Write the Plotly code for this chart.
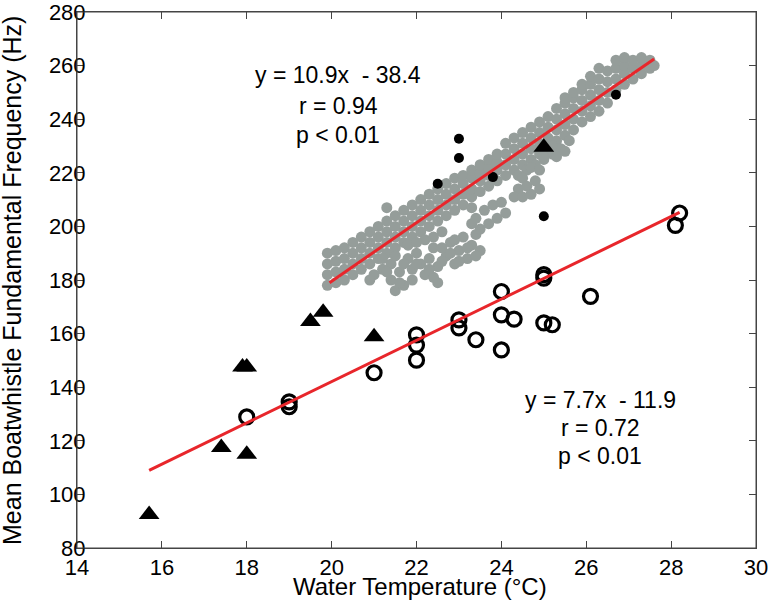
import plotly.graph_objects as go

# ---------------- data ----------------
# grey cloud (dense recordings), main band / lower lobe / hook
cloud_main = [
    (19.9, 178), (19.9, 182), (19.9, 186), (19.9, 190),
    (20.1, 179), (20.1, 183), (20.1, 187), (20.1, 191),
    (20.3, 180), (20.3, 184), (20.3, 188), (20.3, 192),
    (20.5, 182), (20.5, 186), (20.5, 190), (20.5, 194),
    (20.7, 184), (20.7, 188), (20.7, 192), (20.7, 196),
    (20.9, 186), (20.9, 190), (20.9, 194), (20.9, 198),
    (21.1, 188), (21.1, 192), (21.1, 196), (21.1, 200),
    (21.3, 190), (21.3, 194), (21.3, 198), (21.3, 202), (21.3, 207),
    (21.5, 192), (21.5, 196), (21.5, 200), (21.5, 204),
    (21.7, 194), (21.7, 198), (21.7, 202), (21.7, 206),
    (21.9, 196), (21.9, 200), (21.9, 204), (21.9, 208),
    (22.1, 198), (22.1, 202), (22.1, 206), (22.1, 210),
    (22.3, 200), (22.3, 204), (22.3, 208), (22.3, 212),
    (22.5, 202), (22.5, 206), (22.5, 210), (22.5, 214),
    (22.7, 204), (22.7, 208), (22.7, 212), (22.7, 216),
    (22.9, 206), (22.9, 210), (22.9, 214), (22.9, 218),
    (23.1, 208), (23.1, 212), (23.1, 216), (23.1, 219),
    (23.3, 211), (23.3, 214), (23.3, 218), (23.3, 221),
    (23.5, 213), (23.5, 217), (23.5, 220), (23.5, 223),
    (23.7, 215), (23.7, 219), (23.7, 222), (23.7, 225),
    (23.9, 217), (23.9, 221), (23.9, 224), (23.9, 227),
    (24.1, 219), (24.1, 223), (24.1, 227), (24.1, 231),
    (24.3, 221), (24.3, 225), (24.3, 229), (24.3, 233),
    (24.5, 223), (24.5, 227), (24.5, 231), (24.5, 235),
    (24.7, 225), (24.7, 229), (24.7, 233), (24.7, 237),
    (24.9, 227), (24.9, 231), (24.9, 235), (24.9, 239),
    (25.1, 229), (25.1, 233), (25.1, 237), (25.1, 241),
    (25.3, 232), (25.3, 236), (25.3, 240), (25.3, 244),
    (25.5, 234), (25.5, 238), (25.5, 242), (25.5, 246), (25.5, 248),
    (25.7, 236), (25.7, 240), (25.7, 244), (25.7, 248), (25.7, 250),
    (25.9, 239), (25.9, 243), (25.9, 247), (25.9, 251), (25.9, 253),
    (26.1, 241), (26.1, 245), (26.1, 249), (26.1, 253), (26.1, 256),
    (26.3, 243), (26.3, 247), (26.3, 251), (26.3, 255), (26.3, 259),
    (26.5, 246), (26.5, 250), (26.5, 254), (26.5, 258),
    (26.7, 251), (26.7, 255), (26.7, 259), (26.7, 262),
    (26.9, 253), (26.9, 257), (26.9, 260), (26.9, 263),
    (27.1, 255), (27.1, 259), (27.1, 262),
    (27.3, 257), (27.3, 260), (27.3, 263),
    (27.5, 259), (27.5, 262), (27.6, 260),
]
cloud_lower = [
    (21.0, 182), (21.2, 184), (21.4, 186), (21.4, 180), (21.5, 176),
    (21.6, 183), (21.7, 178), (21.8, 188), (21.9, 184), (22.0, 190),
    (22.1, 186), (22.2, 182), (22.3, 188), (22.4, 192), (22.5, 179),
    (22.5, 185), (22.7, 189), (22.8, 194), (22.9, 186), (23.0, 191),
    (23.1, 196), (23.2, 188), (23.3, 193), (23.4, 197), (23.5, 191),
    (22.6, 198), (22.2, 195), (21.8, 193),
    (20.9, 180), (21.2, 188), (21.5, 189), (21.7, 186), (22.0, 186),
    (22.3, 184), (22.4, 181), (22.6, 187), (22.6, 192), (22.8, 190),
    (23.0, 187), (23.2, 192), (23.4, 189), (21.9, 180), (21.6, 179),
    (22.0, 194), (22.4, 196), (22.9, 195), (23.3, 201), (21.3, 183),
]
cloud_hook = [
    (24.4, 219), (24.6, 221), (24.8, 223), (25.0, 225), (25.2, 227),
    (25.4, 229), (25.6, 232), (25.0, 226), (25.3, 226), (25.5, 228),
    (25.2, 230), (24.7, 222), (24.9, 221), (24.5, 218),
    (24.4, 214), (24.6, 215), (24.8, 217), (24.3, 211), (24.5, 211),
    (24.7, 212), (24.9, 214),
    (23.4, 203), (23.6, 206), (23.8, 208), (24.0, 209), (24.1, 205),
    (23.9, 203), (23.5, 199), (23.7, 201), (23.3, 207),
]

# black filled dots
dots_x = [22.5, 23.0, 23.0, 23.8, 26.7, 25.0]
dots_y = [215.9, 232.7, 225.5, 218.4, 249.1, 203.8]

# filled triangles
tri_x = [15.7, 17.4, 18.0, 17.9, 18.0, 19.5, 19.8, 21.0, 25.0]
tri_y = [92.5, 117.5, 115.0, 147.5, 147.5, 164.5, 168.0, 158.8, 229.5]

# open circles
circ_x = [18.0, 19.0, 19.0, 21.0, 22.0, 22.0, 22.0, 23.0, 23.0, 23.4,
          24.0, 24.0, 24.3, 24.0, 25.0, 25.0, 25.0, 25.2, 26.1, 28.2, 28.1]
circ_y = [128.9, 134.5, 132.7, 145.4, 159.5, 155.7, 150.1, 165.1, 162.1, 157.7,
          175.7, 167.0, 165.4, 153.9, 182.0, 180.7, 164.0, 163.3, 173.9, 205.0, 200.4]

# regression lines (endpoints)
fit_hi_x = [19.95, 27.6]
fit_hi_y = [179.0, 262.5]
fit_lo_x = [15.7, 28.2]
fit_lo_y = [109.0, 205.2]

x_ticks = [14, 16, 18, 20, 22, 24, 26, 28, 30]
y_ticks = [80, 100, 120, 140, 160, 180, 200, 220, 240, 260, 280]

# ---------------- figure ----------------
FONT = "Liberation Sans, Arial, Helvetica, sans-serif"
GREY = "#959d9a"
RED = "#e8262b"
FRAME = "#444"

W, H = 769, 607
L, R, T, B = 77, 13, 12, 59
PW, PH = W - L - R, H - T - B

cloud = cloud_main + cloud_lower + cloud_hook
fig = go.Figure()
fig.add_trace(go.Scatter(
    x=[p[0] for p in cloud], y=[p[1] for p in cloud], mode="markers",
    marker=dict(color=GREY, size=11, line=dict(width=0)), hoverinfo="skip"))
fig.add_trace(go.Scatter(
    x=dots_x, y=dots_y, mode="markers",
    marker=dict(color="black", size=10, line=dict(width=0))))
fig.add_trace(go.Scatter(
    x=tri_x, y=tri_y, mode="markers",
    marker=dict(symbol="triangle-up", color="black", size=18, line=dict(width=0))))
fig.add_trace(go.Scatter(
    x=circ_x, y=circ_y, mode="markers",
    marker=dict(symbol="circle-open", color="black", size=14, line=dict(width=3.2, color="black"))))
fig.add_trace(go.Scatter(
    x=fit_hi_x, y=fit_hi_y, mode="lines", line=dict(color=RED, width=3)))
fig.add_trace(go.Scatter(
    x=fit_lo_x, y=fit_lo_y, mode="lines", line=dict(color=RED, width=3)))

ann_font = dict(family=FONT, size=23, color="black")
texts_hi = ["y = 10.9x \u00a0- 38.4", "r = 0.94", "p < 0.01"]
texts_lo = ["y = 7.7x \u00a0- 11.9", "r = 0.72", "p < 0.01"]
for t, yy in zip(texts_hi, [256.5, 244.8, 234.2]):
    fig.add_annotation(x=20.16, y=yy, text=t, showarrow=False, font=ann_font,
                       xanchor="center", yanchor="middle")
for t, yy in zip(texts_lo, [135.4, 124.9, 114.3]):
    fig.add_annotation(x=26.33, y=yy, text=t, showarrow=False, font=ann_font,
                       xanchor="center", yanchor="middle")

# axis titles as paper annotations for exact placement
fig.add_annotation(xref="paper", yref="paper", x=(420 - L) / PW, y=-(586 - (H - B)) / PH,
                   text="Water Temperature (°C)", showarrow=False,
                   font=dict(family=FONT, size=24, color="black"),
                   xanchor="center", yanchor="middle")
fig.add_annotation(xref="paper", yref="paper", x=(12 - L) / PW, y=(H - B - 281) / PH,
                   text="Mean Boatwhistle Fundamental Frequency (Hz)", showarrow=False,
                   textangle=-90, font=dict(family=FONT, size=25, color="black"),
                   xanchor="center", yanchor="middle")

# full frame
fig.add_shape(type="rect", xref="paper", yref="paper", x0=0, x1=1, y0=0, y1=1,
              line=dict(color=FRAME, width=1), layer="above")

axis_common = dict(
    showline=True, linecolor=FRAME, linewidth=1, mirror="allticks",
    ticks="inside", ticklen=7, tickwidth=1, tickcolor=FRAME,
    showgrid=False, zeroline=False, ticklabeloverflow="allow",
    tickfont=dict(family=FONT, size=22, color="black"),
)
fig.update_xaxes(range=[14, 30], tickvals=x_ticks, ticktext=[str(v) for v in x_ticks],
                 **axis_common)
fig.update_yaxes(range=[80, 280], tickvals=y_ticks, ticktext=[str(v) for v in y_ticks],
                 ticklabelstandoff=-14, **axis_common)

fig.update_layout(
    width=W, height=H, showlegend=False,
    margin=dict(l=L, r=R, t=T, b=B, autoexpand=False),
    paper_bgcolor="white", plot_bgcolor="white",
)
fig.write_html("out.html", config={"displayModeBar": False},
               post_script="document.body.style.margin='0';document.body.style.padding='0';")
